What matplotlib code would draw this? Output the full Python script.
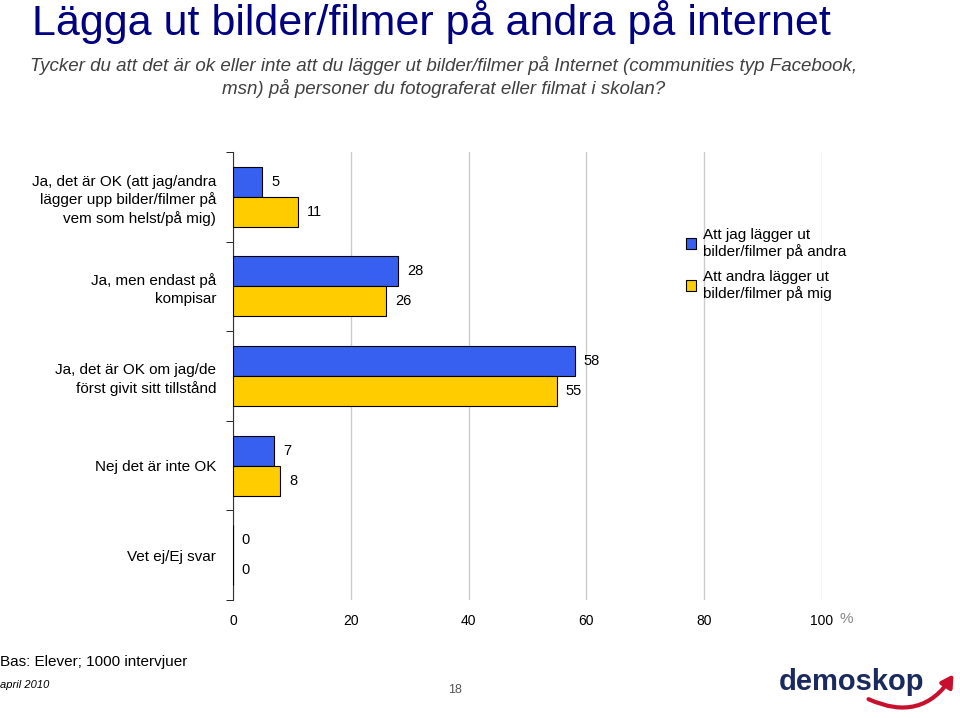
import numpy as np
import matplotlib.pyplot as plt
from matplotlib.patches import FancyArrowPatch

plt.rcParams['font.family'] = ['Liberation Sans', 'DejaVu Sans']

categories = ['Ja, det är OK (att jag/andra\nlägger upp bilder/filmer på\nvem som helst/på mig)',
              'Ja, men endast på\nkompisar',
              'Ja, det är OK om jag/de\nförst givit sitt tillstånd',
              'Nej det är inte OK',
              'Vet ej/Ej svar']
jag_andra = [5, 28, 58, 7, 0]
andra_mig = [11, 26, 55, 8, 0]
series_names = ['Att jag lägger ut\nbilder/filmer på andra',
                'Att andra lägger ut\nbilder/filmer på mig']
xticks = [0, 20, 40, 60, 80, 100]

fig = plt.figure(figsize=(9.6, 7.18), dpi=100)
ax = fig.add_axes([233 / 960, 1 - 600 / 718, (822 - 233) / 960, (600 - 152) / 718])

y = np.arange(len(categories))
h = 0.335
b1 = ax.barh(y - h / 2, jag_andra, height=h, color='#3760f0', edgecolor='black', linewidth=0.8,
             label=series_names[0], zorder=3)
b2 = ax.barh(y + h / 2, andra_mig, height=h, color='#ffcc00', edgecolor='black', linewidth=0.8,
             label=series_names[1], zorder=3)
for bars in (b1, b2):
    for r in bars:
        ax.text(r.get_width() + 1.5, r.get_y() + r.get_height() / 2, f'{int(r.get_width())}',
                va='center', ha='left', fontsize=10.5)

ax.set_xlim(0, 100)
ax.set_ylim(len(categories) - 0.5, -0.5)
ax.set_xticks(xticks)
ax.set_xticklabels(['0', '20', '40', '60', '80', '100'], fontsize=10)
ax.text(103, len(categories) - 0.5 + 0.13, '%', color='#888888', fontsize=11, va='top', ha='left')
ax.tick_params(axis='x', length=0, pad=10)
ax.xaxis.grid(True, color='#cccccc', linewidth=1, zorder=0)
ax.set_yticks(np.arange(len(categories) + 1) - 0.5, minor=True)
ax.set_yticks(y)
ax.set_yticklabels(categories, fontsize=11, linespacing=1.3)
ax.tick_params(axis='y', which='major', length=0, pad=12)
ax.tick_params(axis='y', which='minor', length=5, direction='out')
for s in ['top', 'right', 'bottom']:
    ax.spines[s].set_visible(False)
ax.spines['left'].set_color('#333333')

fig.legend(loc='upper left', bbox_to_anchor=(672 / 960, 1 - 214 / 718), frameon=False,
           fontsize=11, handlelength=0.7, handleheight=0.7, handletextpad=0.4,
           labelspacing=0.7)

fig.text(32 / 960, 1 - 35 / 718, 'Lägga ut bilder/filmer på andra på internet', fontsize=31,
         color='#000080', va='baseline', ha='left')
fig.text(444 / 960, 1 - 77 / 718, 'Tycker du att det är ok eller inte att du lägger ut bilder/filmer på Internet (communities typ Facebook,\nmsn) på personer du fotograferat eller filmat i skolan?',
         fontsize=13.5, style='italic', color='#404040',
         ha='center', va='center', linespacing=1.25)

fig.text(0, 1 - 662 / 718, 'Bas: Elever; 1000 intervjuer', fontsize=11, va='center', ha='left')
fig.text(0, 1 - 685 / 718, 'april 2010', fontsize=8, style='italic', va='center', ha='left')
fig.text(455 / 960, 1 - 690 / 718, '18', fontsize=9, color='#555555', va='center', ha='center')

fig.text(852 / 960, 1 - 682 / 718, 'demoskop', fontsize=21, fontweight='bold', color='#1b2a5e',
         va='center', ha='center')
arr = FancyArrowPatch((866 / 960, 1 - 698 / 718), (955 / 960, 1 - 672 / 718),
                      transform=fig.transFigure, connectionstyle='arc3,rad=0.45',
                      arrowstyle='-|>,head_length=7,head_width=4', color='#c8102e', linewidth=3)
fig.patches.append(arr)

fig.savefig('out.png', dpi=100)
